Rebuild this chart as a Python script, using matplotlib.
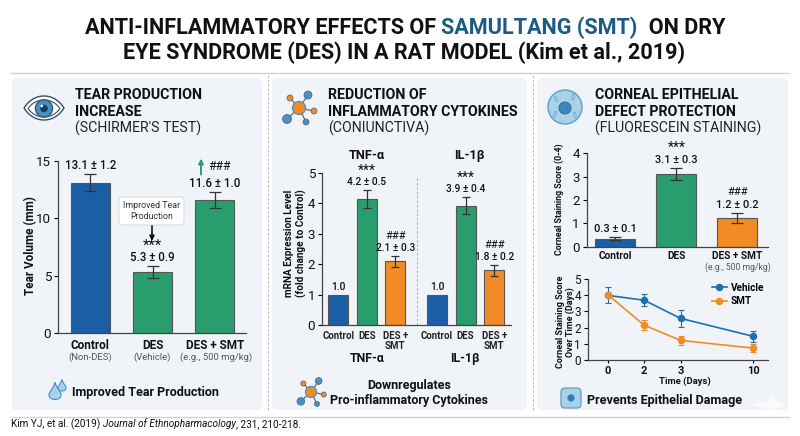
"""Samultang dry eye infographic: three panels of bar and line charts."""

import matplotlib
matplotlib.use("Agg")
import matplotlib.pyplot as plt
from matplotlib.lines import Line2D
from matplotlib.patches import Circle, Ellipse, FancyBboxPatch, Polygon, PathPatch
from matplotlib.path import Path as MplPath

plt.rcParams["font.family"] = ["Roboto", "DejaVu Sans"]

W, H = 800, 436
BLUE = "#1a5fa6"
LINE_BLUE = "#1c70b2"
GREEN = "#2a9d6f"
ORANGE = "#f28b25"
PANEL = "#f0f4f9"
DARK = "#111111"
GREY = "#555555"

tear_groups = ["Control", "DES", "DES + SMT"]
tear_notes = ["(Non-DES)", "(Vehicle)", "(e.g., 500 mg/kg)"]
tear_values = [13.1, 5.3, 11.6]
tear_errors = [0.75, 0.5, 0.7]
tear_labels = ["13.1 ± 1.2", "5.3 ± 0.9", "11.6 ± 1.0"]

cyto_groups = ["Control", "DES", "DES +\nSMT", "Control", "DES", "DES +\nSMT"]
cyto_pos = [0, 1, 2, 3.47, 4.47, 5.47]
cyto_values = [1.0, 4.15, 2.1, 1.0, 3.93, 1.8]
cyto_errors = [0, 0.3, 0.18, 0, 0.29, 0.18]
cyto_labels = ["1.0", "4.2 ± 0.5", "2.1 ± 0.3", "1.0", "3.9 ± 0.4", "1.8 ± 0.2"]
cyto_marks = ["", "***", "###", "", "***", "###"]

stain_groups = ["Control", "DES", "DES + SMT"]
stain_values = [0.35, 3.12, 1.23]
stain_errors = [0.08, 0.26, 0.2]
stain_labels = ["0.3 ± 0.1", "3.1 ± 0.3", "1.2 ± 0.2"]
stain_marks = ["", "***", "###"]

days = ["0", "2", "3", "10"]
day_pos = [0, 1, 2, 4]
vehicle = [4.0, 3.7, 2.57, 1.45]
vehicle_err = [0.5, 0.38, 0.55, 0.33]
smt = [4.05, 2.15, 1.2, 0.72]
smt_err = [0.0, 0.33, 0.3, 0.25]

fig = plt.figure(figsize=(W / 100, H / 100), dpi=100, facecolor="white")
bg = fig.add_axes([0, 0, 1, 1])
bg.set_xlim(0, W)
bg.set_ylim(H, 0)
bg.axis("off")


def px_axes(left, top, right, bottom):
    ax = fig.add_axes([left / W, 1 - bottom / H, (right - left) / W, (bottom - top) / H])
    ax.patch.set_alpha(0)
    for side in ("top", "right"):
        ax.spines[side].set_visible(False)
    for side in ("left", "bottom"):
        ax.spines[side].set_color("#444444")
        ax.spines[side].set_linewidth(0.9)
    return ax


def txt(x, y, s, size=9, weight="normal", color=DARK, ha="center", va="center", **kw):
    return bg.text(x, y, s, fontsize=size, fontweight=weight, color=color, ha=ha, va=va, **kw)


def run_text(x, y, pieces, size, ha="left"):
    # several styles on one line, laid end to end
    renderer = fig.canvas.get_renderer()
    items = [txt(x, y, s, size=size, ha="left", **kw) for s, kw in pieces]
    widths = [t.get_window_extent(renderer).width for t in items]
    cur = x - sum(widths) / 2 if ha == "center" else x
    for t, w in zip(items, widths):
        t.set_x(cur)
        cur += w


def bar_labels(ax, xs, tops, labels, marks, size, mark_size, gap1=8, gap2=20):
    for x, top, lab, mark in zip(xs, tops, labels, marks):
        ax.annotate(lab, (x, top), xytext=(0, gap1), textcoords="offset pixels", ha="center",
                    va="center", fontsize=size, fontweight="medium", color=DARK)
        if mark:
            # asterisks come out small in this font
            fs = mark_size * 1.25 if mark == "***" else mark_size
            shift = -1 if mark == "***" else 0
            ax.annotate(mark, (x, top), xytext=(0, gap2 + shift), textcoords="offset pixels", ha="center",
                        va="center", fontsize=fs, color=DARK)


def draw_bars(ax, xs, values, errors, colors, width, capsize):
    ax.bar(xs, values, width=width, color=colors, edgecolor="#555555", linewidth=0.8)
    for x, v, e in zip(xs, values, errors):
        if e:
            ax.errorbar(x, v, yerr=e, color="#333333", capsize=capsize, elinewidth=0.9, capthick=0.9)


# frame lines and panels
bg.plot([11, 789], [73, 73], color="#cfd3d6", lw=1)
bg.plot([11, 789], [416.5, 416.5], color="#cfd3d6", lw=1)
for l, r in ((12, 262), (272, 527), (537, 788)):
    bg.add_patch(FancyBboxPatch((l + 4, 82), r - l - 8, 324, boxstyle="round,pad=4,rounding_size=5",
                                fc=PANEL, ec="none"))
for x in (268, 533):
    bg.plot([x, x], [75, 411], color="#b4b8bd", lw=0.7, ls=(0, (2.5, 2)))

# main title
run_text(405, 28, [("ANTI-INFLAMMATORY EFFECTS OF ", dict(weight="bold")),
                   ("SAMULTANG (SMT)", dict(weight="bold", color="#1d5c82")),
                   ("  ON DRY", dict(weight="bold"))], 15.6, ha="center")
txt(404, 53, "EYE SYNDROME (DES) IN A RAT MODEL (Kim et al., 2019)", size=15.6, weight="bold")

# citation
run_text(11, 424, [("Kim YJ, et al. (2019) ", {}),
                   ("Journal of Ethnopharmacology", dict(style="italic")),
                   (", 231, 210-218.", {})], 7.2)

# panel headers
for x, a, b, c in ((75, "TEAR PRODUCTION", "INCREASE", "(SCHIRMER'S TEST)"),
                   (328, "REDUCTION OF", "INFLAMMATORY CYTOKINES", "(CONIUNCTIVA)"),
                   (595, "CORNEAL EPITHELIAL", "DEFECT PROTECTION", "(FLUORESCEIN STAINING)")):
    txt(x, 95, a, size=10.2, weight="bold", ha="left")
    txt(x, 111.5, b, size=10.2, weight="bold", ha="left")
    txt(x, 128, c, size=10.2, ha="left", color="#222222")


def eye_shape(cx, cy, half, lift):
    verts = [(cx - half, cy), (cx - half * 0.5, cy - lift), (cx + half * 0.5, cy - lift), (cx + half, cy),
             (cx + half * 0.5, cy + lift), (cx - half * 0.5, cy + lift), (cx - half, cy)]
    codes = [MplPath.MOVETO] + [MplPath.CURVE4] * 6
    return MplPath(verts, codes)


# eye icon
bg.add_patch(PathPatch(eye_shape(44, 108, 20, 16), fc="white", ec="#3d4f60", lw=1.0))
bg.add_patch(PathPatch(eye_shape(44, 108.5, 16, 11.5), fc="white", ec="#3d4f60", lw=0.8))
bg.add_patch(Circle((44, 108.5), 8.6, fc="#4a8fc0", ec="#2b5f85", lw=1))
bg.add_patch(Circle((44, 108.5), 3.8, fc="#173f60", ec="none"))
bg.add_patch(Circle((41.8, 106), 1.3, fc="white", ec="none"))


def drop(x, y, r, fc="#a9d2ee", ec="#4a8fc0"):
    verts = [(x, y - 2.1 * r), (x + 0.3 * r, y - r), (x + r, y - 0.6 * r), (x + r, y), (x + r, y + r),
             (x - r, y + r), (x - r, y), (x - r, y - 0.6 * r), (x - 0.3 * r, y - r), (x, y - 2.1 * r)]
    codes = [MplPath.MOVETO] + [MplPath.CURVE4] * 9
    bg.add_patch(PathPatch(MplPath(verts, codes), fc=fc, ec=ec, lw=0.8))


drop(62, 388, 4)
drop(55, 395, 6)


def network(cx, cy, scale):
    nodes = [(-9, -10, 3, ORANGE), (9, -13, 4, "#4a90c2"), (15, 3, 3, ORANGE),
             (-12, 11, 4.5, "#4a90c2"), (7, 14, 3, "#4a90c2")]
    for dx, dy, r, c in nodes:
        bg.plot([cx, cx + dx * scale], [cy, cy + dy * scale], color="#5a6b7a", lw=0.9, zorder=3)
        bg.add_patch(Circle((cx + dx * scale, cy + dy * scale), r * scale, fc=c, ec="#4d6070", lw=0.5, zorder=4))
    bg.add_patch(Circle((cx, cy), 6.5 * scale, fc=ORANGE, ec="#4a8fc0", lw=0.9, zorder=4))


network(299, 108, 1.0)
network(311, 392, 0.85)

# cell icons
bg.add_patch(Circle((565, 107), 17, fc="#a8d2ea", ec="#5f9cc4", lw=1))
bg.add_patch(Circle((565, 108), 6, fc="#3f88bd", ec="#2f6c9a", lw=0.7))
for dx, dy in ((-9, -8), (8, -10), (10, 8), (-10, 7)):
    bg.add_patch(Ellipse((565 + dx, 107 + dy), 6, 2.2, angle=dx * dy, fc="none", ec="#6fa8cc", lw=0.6))
bg.add_patch(FancyBboxPatch((564, 391), 14, 14, boxstyle="round,pad=3,rounding_size=4",
                            fc="#a8d2ea", ec="#5f9cc4", lw=0.9))
bg.add_patch(Circle((571, 398), 3.6, fc="#2f7fb8", ec="none"))

# panel 1
ax = px_axes(58, 161, 246, 333)
draw_bars(ax, range(3), tear_values, tear_errors, [BLUE, GREEN, GREEN], 0.63, 4.5)
ax.set_xlim(-0.52, 2.5)
ax.set_ylim(0, 15)
ax.set_yticks([0, 5, 10, 15])
ax.set_xticks(range(3))
ax.set_xticklabels(tear_groups, fontsize=8.5, fontweight="bold", color=DARK)
ax.tick_params(axis="x", length=0, pad=4)
ax.tick_params(axis="y", labelsize=9.6, length=3, width=0.8, pad=2, labelcolor=DARK)
ax.set_ylabel("Tear Volume (mm)", fontsize=8.5, fontweight="bold", color=DARK)
ax.yaxis.set_label_coords((37 - 58) / 188, 0.51)
bar_labels(ax, range(3), [v + e for v, e in zip(tear_values, tear_errors)], tear_labels,
           ["", "***", ""], 8.3, 8.6, gap1=8.5, gap2=22)
for x, note in zip((90, 152, 216), tear_notes):
    txt(x, 357, note, size=6.8, color=GREY)
ax.annotate("###", (2, tear_values[2] + tear_errors[2]), xytext=(5, 25), textcoords="offset pixels",
            ha="center", va="center", fontsize=8.8, color=DARK)
bg.annotate("", xy=(201, 158.5), xytext=(201, 174.5),
            arrowprops=dict(arrowstyle="-|>", color=GREEN, lw=1.4, mutation_scale=7, shrinkA=0, shrinkB=0))
bg.add_patch(FancyBboxPatch((122, 200), 59, 22, boxstyle="round,pad=3,rounding_size=4",
                            fc="white", ec="#d5dbe2", lw=0.7, zorder=5))
txt(152, 211, "Improved Tear\nProduction", size=6.4, color="#333333", linespacing=1.15, zorder=6)
bg.annotate("", xy=(152, 241), xytext=(152, 225),
            arrowprops=dict(arrowstyle="-|>", color="#111111", lw=1.2, mutation_scale=7, shrinkA=0, shrinkB=0))
txt(72, 392, "Improved Tear Production", size=9, weight="bold", ha="left")

# panel 2
ax = px_axes(322, 173, 511, 325)
cyto_colors = [BLUE, GREEN, ORANGE] * 2
draw_bars(ax, cyto_pos, cyto_values, cyto_errors, cyto_colors, 0.7, 3.2)
ax.set_xlim(-0.57, 6.06)
ax.set_ylim(0, 5)
ax.set_yticks(range(6))
ax.set_xticks(cyto_pos)
ax.set_xticklabels(cyto_groups, fontsize=6.9, fontweight="bold", color="#222222", linespacing=1.1)
ax.tick_params(axis="x", length=0, pad=4)
ax.tick_params(axis="y", labelsize=9.6, length=3, width=0.8, pad=2, labelcolor=DARK)
ax.set_ylabel("mRNA Expression Level\n(fold change to Control)", fontsize=7.2, fontweight="bold",
              color=DARK, linespacing=1.15)
ax.yaxis.set_label_coords((307 - 322) / 189, 0.54)
ax.axvline(2.75, ymax=0.98, color="#a9adb2", lw=0.7, ls=(0, (2.5, 2)))
bar_labels(ax, cyto_pos, [v + e for v, e in zip(cyto_values, cyto_errors)], cyto_labels, cyto_marks,
           7.4, 8, gap1=7.5, gap2=20)
for x, name in ((367, "TNF-α"), (469, "IL-1β")):
    txt(x, 155, name, size=9.2, weight="bold")
for x, name in ((367, "TNF-α"), (465, "IL-1β")):
    txt(x, 358, name, size=8.8, weight="bold")
txt(409, 385, "Downregulates", size=9, weight="bold")
txt(409, 400, "Pro-inflammatory Cytokines", size=9, weight="bold")

# panel 3, score bars
ax = px_axes(586.7, 153.3, 768, 246.7)
draw_bars(ax, range(3), stain_values, stain_errors, [BLUE, GREEN, ORANGE], 0.655, 4.5)
ax.set_xlim(-0.47, 2.5)
ax.set_ylim(0, 4)
ax.set_yticks(range(5))
ax.set_xticks(range(3))
ax.set_xticklabels(stain_groups, fontsize=7.3, fontweight="bold", color=DARK)
ax.tick_params(axis="x", length=0, pad=3)
ax.tick_params(axis="y", labelsize=9.6, length=3, width=0.8, pad=2, labelcolor=DARK)
ax.set_ylabel("Corneal Staining Score (0-4)", fontsize=6.3, fontweight="bold", color=DARK)
ax.yaxis.set_label_coords((564 - 586.7) / 181.3, 0.514)
bar_labels(ax, range(3), [v + e for v, e in zip(stain_values, stain_errors)], stain_labels, stain_marks,
           7.9, 8, gap1=8, gap2=21)
txt(738, 267, "(e.g., 500 mg/kg)", size=6.2, color=GREY)

# panel 3, time course
ax = px_axes(588, 279.3, 768, 359.7)
for vals, errs, color in ((vehicle, vehicle_err, LINE_BLUE), (smt, smt_err, ORANGE)):
    ax.errorbar(day_pos, vals, yerr=errs, color=color, marker="o", markersize=4.4, lw=1.2,
                elinewidth=0.8, capsize=2.5, capthick=0.8)
ax.set_xlim(-0.54, 4.4)
ax.set_ylim(0, 5)
ax.set_yticks(range(6))
ax.set_xticks(day_pos)
ax.set_xticklabels(days, fontsize=8, fontweight="bold", color=DARK)
ax.tick_params(axis="x", length=2.5, width=0.8, pad=2)
ax.tick_params(axis="y", labelsize=8.5, length=3, width=0.8, pad=2, labelcolor=DARK)
ax.set_xlabel("Time (Days)", fontsize=6.8, fontweight="bold", color=DARK)
ax.xaxis.set_label_coords(0.539, -0.205)
ax.set_ylabel("Corneal Staining Score\nOver Time (Days)", fontsize=6.5, fontweight="bold", color=DARK,
              linespacing=1.15)
ax.yaxis.set_label_coords((575 - 588) / 180, 0.47)
handles = [Line2D([], [], color=LINE_BLUE, marker="o", markersize=4.4, lw=1.2, label="Vehicle"),
           Line2D([], [], color=ORANGE, marker="o", markersize=4.4, lw=1.2, label="SMT")]
legend = ax.legend(handles=handles, loc="upper right", bbox_to_anchor=(0.978, 0.954), frameon=False,
                   fontsize=7.2, handlelength=1.5, labelspacing=0.35, handletextpad=0.4, borderpad=0,
                   borderaxespad=0, alignment="left")
for t in legend.get_texts():
    t.set_fontweight("bold")
txt(587, 400, "Prevents Epithelial Damage", size=9.1, weight="bold", ha="left")
bg.add_patch(Polygon([(772, 391), (776, 401), (785, 405), (776, 409), (772, 419), (768, 409), (752, 405), (768, 401)],
                     closed=True, fc="white", ec="none", alpha=0.6))

fig.savefig("out.png", dpi=100)
